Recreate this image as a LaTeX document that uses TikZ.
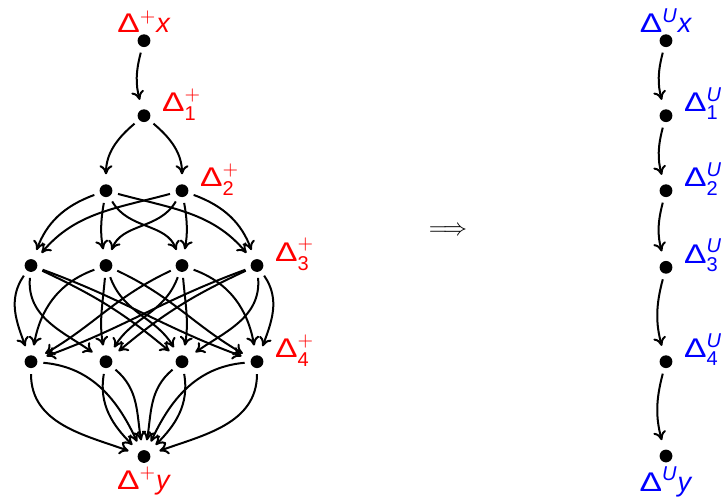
\documentclass[tikz,border=0pt]{standalone}
\usepackage{amsmath}
\usepackage{graphicx}
\usepackage[no-math]{fontspec}
\setmainfont{Liberation Sans}
\usetikzlibrary{positioning,arrows.meta}
\DeclareMathSizes{13.5}{13.5}{10}{7}
\newcommand{\DD}{\scalebox{1.25}[1]{Δ}}
\newcommand{\Dpl}[1]{\DD$^{+}_{\text{#1}}$}
\newcommand{\Dun}[1]{\DD$^{\textit{U}}_{\text{#1}}$}
\tikzset{
  pt/.style  ={circle, fill=black, inner sep=0pt, minimum size=6.4pt, outer sep=3pt},
  edge/.style={-{To[length=4.5pt,width=6.5pt]}, line width=1pt, shorten >=2pt},
  labp/.style={text=red, inner sep=0pt, font=\fontsize{13.5}{16}\selectfont},
  labu/.style={text=blue, inner sep=0pt, font=\fontsize{13.5}{16}\selectfont},
}
\begin{document}
\begin{tikzpicture}[x=0.5pt, y=0.5pt]
  \useasboundingbox (0,0) rectangle (724,-498);
  % left graph
  \node[pt] (X)  at (144,-40.7)  {};
  \node[pt] (A1) at (144,-115.7) {};
  \node[pt] (B1) at (106,-190.7) {};
  \node[pt] (B2) at (182,-190.7) {};
  \foreach \x [count=\i] in {31,106,182,257} {
    \node[pt] (C\i) at (\x,-265.5) {};
    \node[pt] (D\i) at (\x,-361.7) {};
  }
  \node[pt] (Y)  at (144,-456.5) {};

  \node[labp, above=-2.4pt of X] {\DD$^{+}$\textit{x}};
  \node[labp, anchor=base west] at ([shift={(2.7pt,2pt)}]A1.east) {\Dpl{1}};
  \node[labp, anchor=base west] at ([shift={(2.7pt,2pt)}]B2.east) {\Dpl{2}};
  \node[labp, anchor=base west] at ([shift={(2.7pt,2pt)}]C4.east) {\Dpl{3}};
  \node[labp, anchor=base west] at ([shift={(2.7pt,2pt)}]D4.east) {\Dpl{4}};
  \node[labp, below=-1pt of Y] {\DD$^{+}$\textit{y}};

  \draw[edge] (X) to[bend right=15] (A1);
  \draw[edge] (A1) to[out=220,in=90] (B1);
  \draw[edge] (A1) to[out=-40,in=90] (B2);
  \foreach \t/\o/\n in {1/200/70, 2/-100/100, 3/-60/110, 4/-15/130}
    \draw[edge] (B1) to[out=\o,in=\n] (C\t);
  \foreach \t/\o/\n in {4/-20/110, 3/-80/80, 2/240/70, 1/195/50}
    \draw[edge] (B2) to[out=\o,in=\n] (C\t);
  \foreach \s/\t/\o/\n in {1/1/235/110, 1/2/265/145, 1/3/-25/140, 1/4/-20/160,
                           2/1/200/80, 2/2/265/100, 2/3/-70/120, 2/4/-25/150,
                           3/4/-20/100, 3/3/-85/80, 3/2/250/60, 3/1/205/30,
                           4/4/-55/70, 4/3/-85/35, 4/2/205/40, 4/1/200/20}
    \draw[edge] (C\s) to[out=\o,in=\n] (D\t);
  \foreach \s/\o/\n in {1/-90/160, 1/-5/115, 2/-100/135, 2/-40/100,
                        3/-80/45, 3/220/80, 4/-90/20, 4/185/65}
    \draw[edge] (D\s) to[out=\o,in=\n] (Y);

  % implication
  \node (imp) at (448,-231) {\fontsize{13}{16}\selectfont$\Longrightarrow$};

  % right graph
  \foreach \y [count=\i from 0] in {40.7,115.7,190.7,267.3,361.7,456}
    \node[pt] (R\i) at (666,-\y) {};
  \foreach \i [remember=\i as \j (initially 0)] in {1,...,5}
    \draw[edge] (R\j) to[bend right=15] (R\i);

  \node[labu, above=-2.4pt of R0] {\DD$^{\textit{U}}$\textit{x}};
  \foreach \i in {1,...,4}
    \node[labu, anchor=base west] at ([shift={(2.7pt,2pt)}]R\i.east) {\Dun{\i}};
  \node[labu, below=-1pt of R5] {\DD$^{\textit{U}}$\textit{y}};
\end{tikzpicture}
\end{document}
